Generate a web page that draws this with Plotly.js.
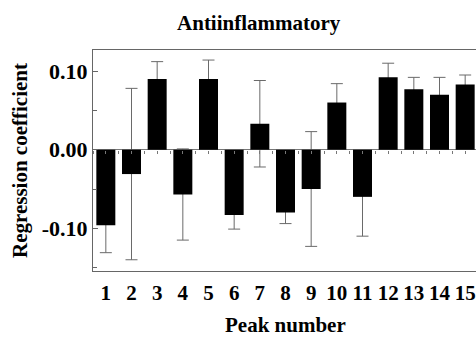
<!DOCTYPE html>
<html>
<head>
<meta charset="utf-8">
<script src="https://cdn.plot.ly/plotly-3.0.1.min.js"></script>
<style>
  html, body { margin: 0; padding: 0; width: 476px; height: 339px; overflow: hidden; background: #fff; }
  #chart { width: 482px; height: 339px; }
</style>
</head>
<body>
<div id="chart"></div>
<script>
// Data
const peaks = [1, 2, 3, 4, 5, 6, 7, 8, 9, 10, 11, 12, 13, 14, 15];
const coefficients = [-0.096, -0.031, 0.090, -0.057, 0.090, -0.083, 0.033, -0.080, -0.050, 0.060, -0.060, 0.092, 0.077, 0.070, 0.083];
const errors = [0.035, 0.109, 0.022, 0.058, 0.024, 0.018, 0.055, 0.014, 0.073, 0.024, 0.050, 0.018, 0.015, 0.022, 0.012];
const yTickVals = [-0.1, 0, 0.1];
const yTickText = ['-0.10', '0.00', '0.10'];
const xTickText = peaks.map(String);

const FONT = '"Liberation Serif", "Times New Roman", Times, serif';
const yRange = [-0.1543, 0.1268];
const xRange = [0.5, 15.5];
const zeroPos = (0 - yRange[0]) / (yRange[1] - yRange[0]);

const traces = [
  {
    type: 'bar', x: peaks, y: coefficients, width: 0.74,
    marker: { color: 'rgba(0,0,0,0)', line: { width: 0 } },
    error_y: { type: 'data', array: errors, visible: true, color: '#6a6a6a', thickness: 1, width: 6 },
    hoverinfo: 'skip', showlegend: false
  },
  {
    type: 'bar', x: peaks, y: coefficients, width: 0.74,
    marker: { color: '#000000', line: { width: 0 } },
    showlegend: false
  },
  {
    // carrier for the zero-line tick axis (no visible marks)
    type: 'scatter', mode: 'markers', x: peaks, y: coefficients, xaxis: 'x2', yaxis: 'y',
    marker: { opacity: 0, size: 1 }, hoverinfo: 'skip', showlegend: false
  }
];

const layout = {
  width: 482, height: 339,
  margin: { l: 93, r: 4, t: 50, b: 68 },
  paper_bgcolor: '#ffffff', plot_bgcolor: '#ffffff',
  barmode: 'overlay',
  showlegend: false,
  font: { family: FONT, color: '#000', size: 21, weight: 'bold' },
  title: {
    text: 'Antiinflammatory',
    font: { family: FONT, size: 21, color: '#000', weight: 'bold' },
    x: 258.7 / 482, xanchor: 'center', xref: 'container',
    y: 1 - 23 / 339, yanchor: 'middle', yref: 'container'
  },
  annotations: [{
    text: 'Peak number', showarrow: false,
    xref: 'paper', x: 0.5, xanchor: 'center',
    yref: 'paper', y: (271 - 338.5) / 221, yanchor: 'bottom',
    font: { family: FONT, size: 21, color: '#000', weight: 'bold' }
  }],
  xaxis: {
    range: xRange, tickvals: peaks, ticktext: xTickText,
    showgrid: false, zeroline: false, ticks: '',
    showline: true, linecolor: '#666', linewidth: 1, mirror: true,
    tickfont: { family: FONT, size: 21, color: '#000', weight: 'bold' },
    ticklabelstandoff: 3,
    automargin: false
  },
  xaxis2: {
    overlaying: 'x', range: xRange, anchor: 'free', position: zeroPos, side: 'bottom',
    showgrid: false, zeroline: false, showticklabels: false,
    showline: false,
    ticks: 'outside', ticklen: 3, tickcolor: '#777', tickwidth: 1,
    tickmode: 'linear', tick0: 0.5, dtick: 0.5
  },
  yaxis: {
    range: yRange, tickvals: yTickVals, ticktext: yTickText,
    showgrid: false, zeroline: true, zerolinecolor: '#777', zerolinewidth: 1,
    ticks: 'inside', ticklen: 5, tickcolor: '#666', tickwidth: 1,
    minor: { dtick: 0.05, tick0: 0, ticks: 'inside', ticklen: 4, tickcolor: '#666', tickwidth: 1 },
    showline: true, linecolor: '#666', linewidth: 1, mirror: true,
    tickfont: { family: FONT, size: 22, color: '#000', weight: 'bold' },
    title: { text: 'Regression coefficient', font: { family: FONT, size: 21, color: '#000', weight: 'bold' }, standoff: 8 },
    automargin: false
  }
};

Plotly.newPlot('chart', traces, layout, { displayModeBar: false, staticPlot: true });
</script>
</body>
</html>
